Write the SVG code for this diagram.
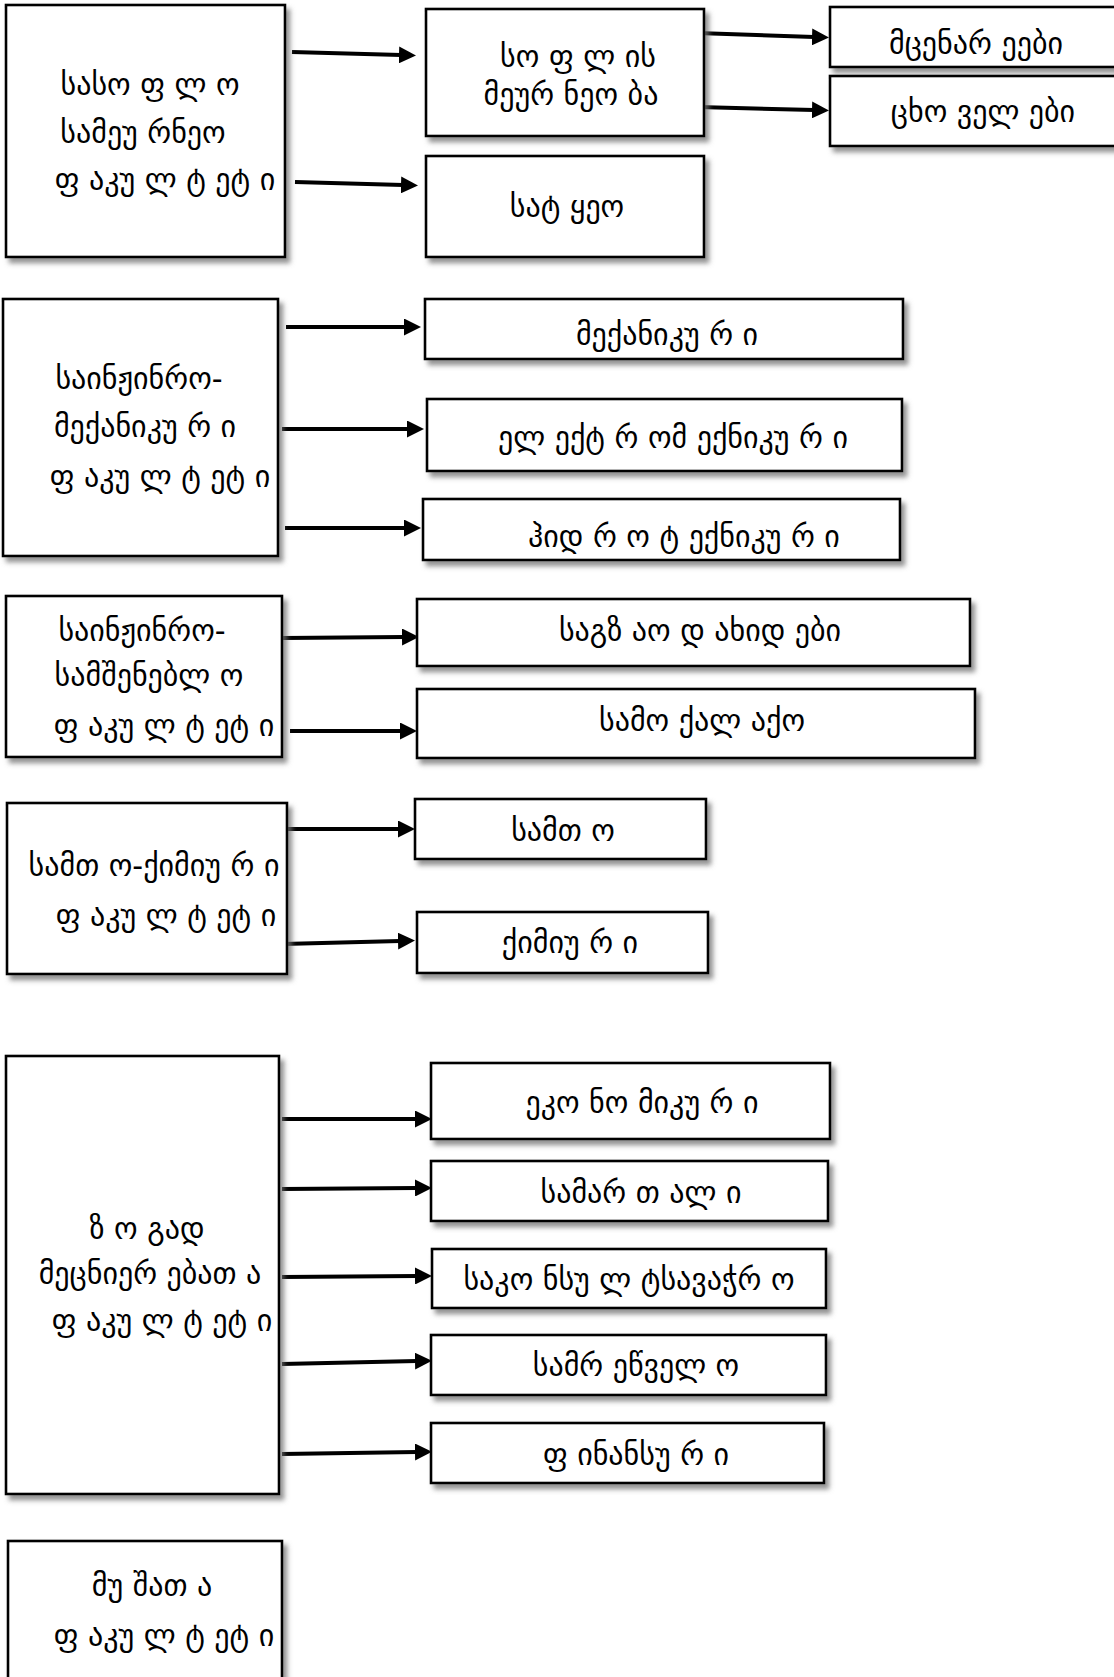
<svg xmlns="http://www.w3.org/2000/svg" width="1114" height="1677" viewBox="0 0 1114 1677">
<defs>
<filter id="sh" x="-10%" y="-10%" width="130%" height="130%">
<feDropShadow dx="4" dy="5" stdDeviation="2.5" flood-color="#6e6e6e" flood-opacity="0.75"/>
</filter>
<marker id="ah" markerUnits="userSpaceOnUse" markerWidth="17" markerHeight="17" refX="2" refY="8.5" orient="auto">
<path d="M0,0 L17,8.5 L0,17 z" fill="#000"/>
</marker>
</defs>
<style>
rect.b{fill:#fff;stroke:#000;stroke-width:2.6;filter:url(#sh)}
text{font-family:"DejaVu Sans","Noto Sans",sans-serif;font-size:30px;fill:#000;text-anchor:middle}
#connectors path{stroke:#000;stroke-width:4;fill:none;marker-end:url(#ah)}
</style>
<rect width="1114" height="1677" fill="#fff"/>

<g id="connectors">
<path d="M292,52 L401,55"/>
<path d="M295,182 L403,185"/>
<path d="M697,33 L814,37"/>
<path d="M698,107 L814,110"/>
<path d="M286,327 L406,327"/>
<path d="M282,429 L409,429"/>
<path d="M285,528 L406,528"/>
<path d="M283,638 L404,637"/>
<path d="M290,731 L402,731"/>
<path d="M288,829 L400,829"/>
<path d="M283,944 L400,941"/>
<path d="M282,1119 L417,1119"/>
<path d="M282,1189 L417,1188"/>
<path d="M282,1277 L417,1276"/>
<path d="M282,1364 L417,1361"/>
<path d="M282,1454 L417,1452"/>
</g>

<g id="agri">
<rect class="b" x="6" y="5" width="279" height="252"/>
<text x="150" y="95">სასო ფ ლ ო</text>
<text x="143" y="143">სამეუ რნეო</text>
<text x="165" y="190">ფ აკუ ლ ტ ეტ ი</text>
</g>
<g id="agriculture">
<rect class="b" x="426" y="9" width="278" height="127"/>
<text x="578" y="67">სო ფ ლ ის</text>
<text x="571" y="105">მეურ ნეო ბა</text>
</g>
<g id="forestry">
<rect class="b" x="426" y="156" width="278" height="101"/>
<text x="567" y="217">სატ ყეო</text>
</g>
<g id="plants">
<rect class="b" x="830" y="7" width="300" height="60"/>
<text x="976" y="54">მცენარ ეები</text>
</g>
<g id="animals">
<rect class="b" x="830" y="76" width="300" height="70"/>
<text x="983" y="122">ცხო ველ ები</text>
</g>

<g id="engmech">
<rect class="b" x="3" y="299" width="275" height="257"/>
<text x="139" y="389">საინჟინრო-</text>
<text x="145" y="437">მექანიკუ რ ი</text>
<text x="160" y="487">ფ აკუ ლ ტ ეტ ი</text>
</g>
<g id="mechanical">
<rect class="b" x="425" y="299" width="478" height="60"/>
<text x="667" y="345">მექანიკუ რ ი</text>
</g>
<g id="electromech">
<rect class="b" x="427" y="399" width="475" height="72"/>
<text x="673" y="448">ელ ექტ რ ომ ექნიკუ რ ი</text>
</g>
<g id="hydrotech">
<rect class="b" x="423" y="499" width="477" height="61"/>
<text x="684" y="547">ჰიდ რ ო ტ ექნიკუ რ ი</text>
</g>

<g id="engbuild">
<rect class="b" x="6" y="596" width="276" height="161"/>
<text x="142" y="641">საინჟინრო-</text>
<text x="149" y="686">სამშენებლ ო</text>
<text x="164" y="736">ფ აკუ ლ ტ ეტ ი</text>
</g>
<g id="roads">
<rect class="b" x="417" y="599" width="553" height="67"/>
<text x="700" y="641">საგზ აო დ ახიდ ები</text>
</g>
<g id="civil">
<rect class="b" x="417" y="689" width="558" height="69"/>
<text x="702" y="731">სამო ქალ აქო</text>
</g>

<g id="minchem">
<rect class="b" x="7" y="803" width="280" height="171"/>
<text x="154" y="876">სამთ ო-ქიმიუ რ ი</text>
<text x="166" y="926">ფ აკუ ლ ტ ეტ ი</text>
</g>
<g id="mining">
<rect class="b" x="415" y="799" width="291" height="60"/>
<text x="563" y="841">სამთ ო</text>
</g>
<g id="chemical">
<rect class="b" x="417" y="912" width="291" height="61"/>
<text x="570" y="953">ქიმიუ რ ი</text>
</g>

<g id="general">
<rect class="b" x="6" y="1056" width="273" height="438"/>
<text x="147" y="1239">ზ ო გად</text>
<text x="150" y="1284">მეცნიერ ებათ ა</text>
<text x="162" y="1331">ფ აკუ ლ ტ ეტ ი</text>
</g>
<g id="economic">
<rect class="b" x="431" y="1063" width="399" height="76"/>
<text x="642" y="1113">ეკო ნო მიკუ რ ი</text>
</g>
<g id="law">
<rect class="b" x="431" y="1161" width="397" height="60"/>
<text x="641" y="1203">სამარ თ ალ ი</text>
</g>
<g id="consular">
<rect class="b" x="432" y="1249" width="394" height="59"/>
<text x="629" y="1290">საკო ნსუ ლ ტსავაჭრ ო</text>
</g>
<g id="industrial">
<rect class="b" x="431" y="1335" width="395" height="60"/>
<text x="636" y="1376">სამრ ეწველ ო</text>
</g>
<g id="finance">
<rect class="b" x="431" y="1423" width="393" height="60"/>
<text x="636" y="1465">ფ ინანსუ რ ი</text>
</g>

<g id="workers">
<rect class="b" x="8" y="1541" width="274" height="150"/>
<text x="152" y="1596">მუ შათ ა</text>
<text x="164" y="1646">ფ აკუ ლ ტ ეტ ი</text>
</g>
</svg>
